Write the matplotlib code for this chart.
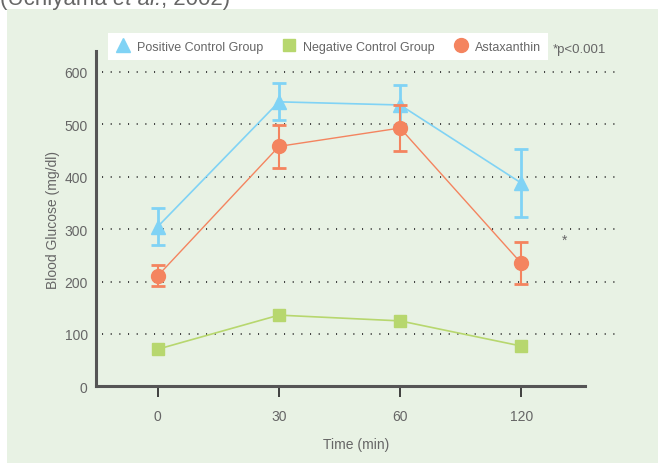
import numpy as np
import matplotlib.pyplot as plt
from matplotlib.patches import Rectangle
from matplotlib.lines import Line2D

# datos
tiempos = ["0", "30", "60", "120"]
positivo = [305, 543, 537, 388]
positivo_err = [35, 35, 38, 65]
negativo = [71, 136, 125, 77]
astax = [211, 458, 493, 235]
astax_err = [20, 41, 44, 40]

azul = "#80d3f5"
verde = "#b7d76e"
naranja = "#f4845f"
gris = "#666666"
fondo = "#e8f2e4"

plt.rcParams['font.family'] = ['Liberation Sans', 'DejaVu Sans']

fig = plt.figure(figsize=(6.58, 4.64), dpi=100)
fig.patch.set_facecolor("white")
fig.add_artist(Rectangle((7/658, 0), 1, (464-10)/464, transform=fig.transFigure,
                         facecolor=fondo, edgecolor="none", zorder=-5))

# titulo cortado arriba
t1 = fig.text(0.0, 0.989, "(Uchiyama ", fontsize=16, color=gris, va="baseline")
t2 = fig.text(0, 0.989, "et al.", fontsize=16, color=gris, va="baseline", style="italic")
fig.canvas.draw()
bb = t1.get_window_extent()
t2.set_x(bb.x1 / fig.bbox.width)
bb2 = t2.get_window_extent()
fig.text(bb2.x1 / fig.bbox.width, 0.989, ", 2002)", fontsize=16, color=gris, va="baseline")

ax = fig.add_axes([96/658, (464-387.4)/464, (617-96)/658, (387.4-52)/464])
ax.set_facecolor("none")
ax.set_zorder(2)
x = np.arange(len(tiempos))

for yv in [100, 200, 300, 400, 500, 600]:
    ax.axhline(yv, xmin=0.012, xmax=1, color="#333333", lw=1.3, ls=(0, (0.6, 4.2)), zorder=1)

ax.errorbar(x, positivo, yerr=positivo_err, color=azul, lw=1.2, marker="^", ms=10,
            capsize=5, capthick=2, elinewidth=2, zorder=3)
ax.plot(x, negativo, color=verde, lw=1.2, marker="s", ms=9, zorder=3)
ax.errorbar(x, astax, yerr=astax_err, color=naranja, lw=1.0, marker="o", ms=10,
            capsize=5, capthick=2, elinewidth=1.5, zorder=4)
ax.text(3.36, 279, "*", fontsize=10, color=gris, ha="center", va="center")

ax.set_xlim(-0.51, 3.79)
ax.set_ylim(0, 640)
ax.set_xticks(x)
ax.set_xticklabels(tiempos)
ax.set_yticks([0, 100, 200, 300, 400, 500, 600])
ax.tick_params(axis="x", length=8, width=1.2, color="#222222", direction="out", pad=8,
               labelsize=10, labelcolor=gris)
ax.tick_params(axis="y", length=0, pad=6, labelsize=10, labelcolor=gris)
for s in ["top", "right"]:
    ax.spines[s].set_visible(False)
for s in ["left", "bottom"]:
    ax.spines[s].set_color("#555555")
    ax.spines[s].set_linewidth(2.2)
ax.spines["bottom"].set_bounds(-0.51, 3.53)
ax.set_xlabel("Time (min)", fontsize=10, color=gris, labelpad=10)
ax.set_ylabel("Blood Glucose (mg/dl)", fontsize=10, color=gris, labelpad=3)

h = [Line2D([], [], color=azul, marker="^", ms=10, ls="none"),
     Line2D([], [], color=verde, marker="s", ms=9, ls="none"),
     Line2D([], [], color=naranja, marker="o", ms=10, ls="none")]
leg = ax.legend(h, ["Positive Control Group", "Negative Control Group", "Astaxanthin"],
                loc="lower left", bbox_to_anchor=(12/521, 0.973), ncol=3, frameon=True,
                fancybox=False, edgecolor="none", facecolor="white", framealpha=1,
                fontsize=9, handletextpad=0.5, columnspacing=1.5, handlelength=1.2,
                borderpad=0.6, borderaxespad=0, labelcolor=gris)
fig.text(553/658, (464-50)/464, "*p<0.001", fontsize=9.5, color=gris, va="center")

fig.savefig("out.png", dpi=100)
